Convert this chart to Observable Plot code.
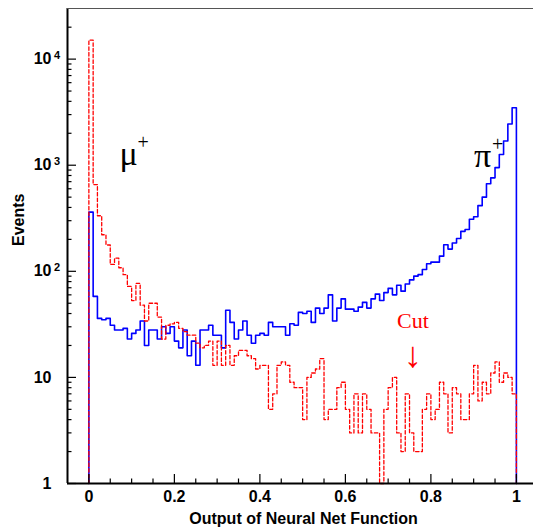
<!DOCTYPE html>
<html>
<head>
<meta charset="utf-8">
<script src="https://cdn.jsdelivr.net/npm/d3@7"></script>
<script src="https://cdn.jsdelivr.net/npm/@observablehq/plot@0.6"></script>
<style>
  html, body { margin: 0; padding: 0; background: #fff; }
  #chart svg { display: block; }
</style>
</head>
<body>
<div id="chart"></div>
<script>
// ---- data ----
const binStart = 0;
const binWidth = 0.01;

// pi+ (blue, solid) events per bin, 100 bins from 0 to 1
const piCounts = [
  361, 58, 36, 35, 36, 31, 28, 28, 29, 23,
  26, 28, 34, 20, 28, 28, 23, 30, 26, 30,
  22, 19, 28, 16, 22, 13, 28, 28, 31, 25,
  25, 19, 43, 33, 23, 28, 34, 25, 21, 25,
  26, 25, 33, 30, 30, 30, 25, 32, 31, 41,
  40, 42, 33, 45, 40, 45, 60, 34, 45, 55,
  44, 44, 42, 46, 51, 45, 55, 61, 53, 63,
  69, 60, 74, 65, 76, 83, 90, 93, 104, 118,
  122, 122, 139, 178, 162, 185, 204, 238, 248, 310,
  327, 416, 500, 668, 760, 950, 1260, 1690, 2450, 3480
];

// mu+ (red, dashed) events per bin
const muCounts = [
  15100, 657, 334, 221, 177, 116, 133, 108, 93, 72,
  53, 77, 48, 34, 50, 50, 37, 23, 31, 32,
  33, 29, 27, 25, 25, 21, 19, 20, 22, 13,
  22, 13, 20, 13, 16, 18, 18, 16, 15, 12,
  13, 13, 5, 7, 13, 14, 13, 9, 8, 8,
  4, 10, 11, 12, 15, 4, 5, 5, 8, 9,
  5, 3, 7, 3, 7, 5, 3, 3, 0, 5,
  8, 10, 3, 2, 7, 3, 2, 2, 5, 7,
  4, 5, 9, 7, 3, 8, 7, 4, 4, 7,
  13, 6, 9, 7, 11, 14, 9, 11, 10, 7
];

const xDomain = [-0.05, 1.04];
const yDomain = [1, 30000];

const xTickValues = [0, 0.2, 0.4, 0.6, 0.8, 1];
const xMinorTicks = [0.05, 0.1, 0.15, 0.25, 0.3, 0.35, 0.45, 0.5, 0.55, 0.65, 0.7, 0.75, 0.85, 0.9, 0.95];
const yTickValues = [1, 10, 100, 1000, 10000];
const yTickBase = ["1", "10", "10", "10", "10"];
const yTickExp = ["", "", "2", "3", "4"];
const yMinorTicks = [2,3,4,5,6,7,8,9, 20,30,40,50,60,70,80,90, 200,300,400,500,600,700,800,900,
  2000,3000,4000,5000,6000,7000,8000,9000, 20000];

const particleLabels = [
  {x: 0.0715, y: 994, name: "\u03bc", charge: "+"},
  {x: 0.901, y: 972, name: "\u03c0", charge: "+"}
];
const cutLabel = {x: 0.758, y: 29.5, text: "Cut", arrow: "\u2193", arrowY: 12.4};

const xTitle = "Output of Neural Net Function";
const yTitle = "Events";

// ---- build step outlines ----
function outline(counts) {
  const pts = [{x: binStart, y: yDomain[0]}];
  counts.forEach((c, i) => pts.push({x: binStart + i * binWidth, y: Math.max(c, yDomain[0])}));
  const last = counts[counts.length - 1];
  const end = binStart + counts.length * binWidth;
  pts.push({x: end, y: Math.max(last, yDomain[0])});
  pts.push({x: end, y: yDomain[0]});
  return pts;
}
const piLine = outline(piCounts);
const muLine = outline(muCounts);

// ---- layout ----
const W = 534, H = 527;
const mL = 67, mR = 1, mT = 8, mB = 44;
const plotW = W - mL - mR, plotH = H - mT - mB;

const chart = Plot.plot({
  width: W,
  height: H,
  marginLeft: mL,
  marginRight: mR,
  marginTop: mT,
  marginBottom: mB,
  style: {fontFamily: "'Liberation Sans', Arial, sans-serif", fontWeight: "bold", fontSize: "16px", background: "#fff", color: "#000"},
  x: {domain: xDomain, label: null},
  y: {type: "log", domain: yDomain, label: null},
  marks: [
    // histograms
    Plot.line(piLine, {x: "x", y: "y", curve: "step-after", stroke: "#0000ff", strokeWidth: 1.6}),
    Plot.line(muLine, {x: "x", y: "y", curve: "step-after", stroke: "#ff0000", strokeWidth: 1.3, strokeDasharray: "3.5,2.2"}),
    // frame
    Plot.ruleX([xDomain[0]], {stroke: "#000", strokeWidth: 2}),
    Plot.ruleY([yDomain[0]], {stroke: "#000", strokeWidth: 2}),
    Plot.ruleY([yDomain[1]], {stroke: "#555", strokeWidth: 1.2}),
    // ticks (inward)
    Plot.tickX(xTickValues, {x: d => d, insetTop: plotH - 9, stroke: "#000", strokeWidth: 1.2}),
    Plot.tickX(xMinorTicks, {x: d => d, insetTop: plotH - 4.5, stroke: "#000", strokeWidth: 1.2}),
    Plot.tickY(yTickValues, {y: d => d, insetRight: plotW - 9, stroke: "#000", strokeWidth: 1.2}),
    Plot.tickY(yMinorTicks, {y: d => d, insetRight: plotW - 4.5, stroke: "#000", strokeWidth: 1.2}),
    // axes labels
    Plot.axisX({ticks: xTickValues, tickSize: 0, tickPadding: 7.5, tickFormat: d => String(d), label: null, fontSize: 16, fontWeight: "bold"}),
    Plot.axisY({ticks: yTickValues, tickSize: 0, tickPadding: 16, tickFormat: d => yTickBase[yTickValues.indexOf(d)], label: null, fontSize: 16, fontWeight: "bold"}),
    Plot.text(yTickValues.map((v, i) => ({v, e: yTickExp[i]})).filter(d => d.e), {
      y: "v", text: "e", frameAnchor: "left", dx: -7.5, textAnchor: "end", lineAnchor: "bottom", fontSize: 11, fontWeight: "bold"
    }),
    // titles
    Plot.text([xTitle], {text: d => d, frameAnchor: "bottom", dx: 3, dy: 40, lineAnchor: "bottom", fontSize: 16, fontWeight: "bold"}),
    Plot.text([yTitle], {text: d => d, frameAnchor: "left", dx: -49, rotate: -90, lineAnchor: "middle", fontSize: 16, fontWeight: "bold"}),
    // particle labels
    Plot.text(particleLabels, {x: "x", y: "y", text: "name", textAnchor: "start", lineAnchor: "bottom", fontSize: 34, fontWeight: "normal", fontFamily: "'Liberation Serif', 'DejaVu Serif', serif", fill: "#000"}),
    Plot.text(particleLabels, {x: "x", y: "y", text: "charge", dx: 18, dy: -16, textAnchor: "start", lineAnchor: "bottom", fontSize: 20, fontWeight: "normal", fontFamily: "'Liberation Serif', 'DejaVu Serif', serif", fill: "#000"}),
    // cut annotation
    Plot.text([cutLabel], {x: "x", y: "y", text: "text", lineAnchor: "bottom", fontSize: 22, fontWeight: "normal", fontFamily: "'Liberation Serif', serif", fill: "#ff0000"}),
    Plot.text([cutLabel], {x: "x", y: "arrowY", text: "arrow", lineAnchor: "bottom", fontSize: 36, fontWeight: "normal", fontFamily: "'Liberation Serif', 'DejaVu Serif', serif", fill: "#ff0000"})
  ]
});
document.getElementById("chart").appendChild(chart);
</script>
</body>
</html>
